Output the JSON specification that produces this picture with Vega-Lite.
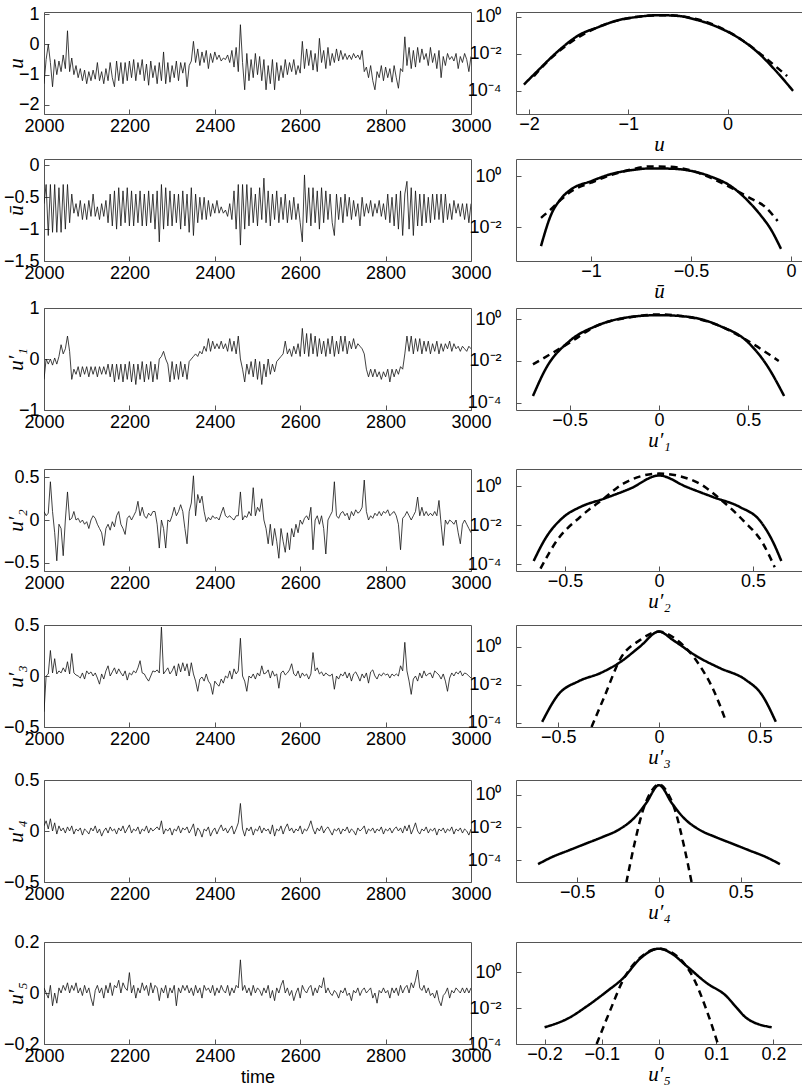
{
"$schema": "https://vega.github.io/schema/vega-lite/v6.json",
"padding": {"left": 0, "top": 0, "right": 0, "bottom": 0},
"background": "white",
"config": {
 "font": "Liberation Sans",
 "view": {"stroke": "#555", "strokeWidth": 1},
 "axis": {"grid": false, "domain": false, "tickSize": -5, "tickColor": "#555", "tickWidth": 1, "labelFontSize": 18, "labelColor": "#000", "labelFlush": false, "labelOverlap": false, "titleFont": "Liberation Serif", "titleFontStyle": "italic", "titleFontWeight": "normal", "titleFontSize": 21, "titleColor": "#000"}
},
"datasets": {
"u": [{"t":2000,"v":-1.3},{"t":2005,"v":-0.5},{"t":2010,"v":0.0},{"t":2015,"v":-0.6},{"t":2020,"v":-1.4},{"t":2025,"v":-0.5},{"t":2030,"v":-1.0},{"t":2035,"v":-0.55},{"t":2040,"v":-0.9},{"t":2045,"v":-0.35},{"t":2050,"v":-0.8},{"t":2055,"v":0.45},{"t":2060,"v":-0.9},{"t":2065,"v":-0.45},{"t":2070,"v":-1.0},{"t":2075,"v":-0.7},{"t":2080,"v":-1.1},{"t":2085,"v":-0.8},{"t":2090,"v":-1.2},{"t":2095,"v":-0.85},{"t":2100,"v":-1.3},{"t":2105,"v":-0.9},{"t":2110,"v":-1.2},{"t":2115,"v":-0.85},{"t":2120,"v":-1.15},{"t":2125,"v":-0.6},{"t":2130,"v":-1.2},{"t":2135,"v":-0.9},{"t":2140,"v":-1.3},{"t":2145,"v":-0.8},{"t":2150,"v":-1.2},{"t":2155,"v":-0.6},{"t":2160,"v":-1.1},{"t":2165,"v":-1.4},{"t":2170,"v":-0.55},{"t":2175,"v":-1.2},{"t":2180,"v":-0.6},{"t":2185,"v":-1.3},{"t":2190,"v":-0.6},{"t":2195,"v":-1.2},{"t":2200,"v":-0.55},{"t":2205,"v":-1.1},{"t":2210,"v":-0.5},{"t":2215,"v":-1.2},{"t":2220,"v":-0.6},{"t":2225,"v":-1.0},{"t":2230,"v":-0.5},{"t":2235,"v":-1.2},{"t":2240,"v":-0.65},{"t":2245,"v":-1.35},{"t":2250,"v":-0.55},{"t":2255,"v":-1.1},{"t":2260,"v":-0.7},{"t":2265,"v":-1.3},{"t":2270,"v":-0.6},{"t":2275,"v":-1.2},{"t":2280,"v":-0.25},{"t":2285,"v":-1.3},{"t":2290,"v":-0.6},{"t":2295,"v":-1.25},{"t":2300,"v":-0.7},{"t":2305,"v":-1.1},{"t":2310,"v":-0.55},{"t":2315,"v":-1.2},{"t":2320,"v":-0.6},{"t":2325,"v":-0.95},{"t":2330,"v":-0.6},{"t":2335,"v":-1.4},{"t":2340,"v":-0.7},{"t":2345,"v":-0.55},{"t":2350,"v":0.1},{"t":2355,"v":-0.6},{"t":2360,"v":-0.15},{"t":2365,"v":-0.7},{"t":2370,"v":-0.25},{"t":2375,"v":-0.6},{"t":2380,"v":-0.2},{"t":2385,"v":-0.8},{"t":2390,"v":-0.3},{"t":2395,"v":-0.6},{"t":2400,"v":-0.25},{"t":2405,"v":-0.5},{"t":2410,"v":-0.35},{"t":2415,"v":-0.55},{"t":2420,"v":-0.45},{"t":2425,"v":-0.5},{"t":2430,"v":-0.35},{"t":2435,"v":-0.6},{"t":2440,"v":-0.2},{"t":2445,"v":-0.75},{"t":2450,"v":-0.1},{"t":2455,"v":-0.9},{"t":2460,"v":0.65},{"t":2465,"v":-0.6},{"t":2470,"v":-1.5},{"t":2475,"v":-0.3},{"t":2480,"v":-1.2},{"t":2485,"v":-0.5},{"t":2490,"v":-1.1},{"t":2495,"v":-0.3},{"t":2500,"v":-1.0},{"t":2505,"v":-0.4},{"t":2510,"v":-1.2},{"t":2515,"v":-0.5},{"t":2520,"v":-1.5},{"t":2525,"v":-0.7},{"t":2530,"v":-1.3},{"t":2535,"v":-0.5},{"t":2540,"v":-1.5},{"t":2545,"v":-0.6},{"t":2550,"v":-1.2},{"t":2555,"v":-0.7},{"t":2560,"v":-1.1},{"t":2565,"v":-0.5},{"t":2570,"v":-1.0},{"t":2575,"v":-0.6},{"t":2580,"v":-0.9},{"t":2585,"v":-0.5},{"t":2590,"v":-1.0},{"t":2595,"v":-0.7},{"t":2600,"v":-0.95},{"t":2605,"v":0.1},{"t":2610,"v":-0.8},{"t":2615,"v":-0.15},{"t":2620,"v":-0.7},{"t":2625,"v":-0.2},{"t":2630,"v":-0.85},{"t":2635,"v":-0.3},{"t":2640,"v":-0.9},{"t":2645,"v":0.2},{"t":2650,"v":-0.6},{"t":2655,"v":-0.2},{"t":2660,"v":-0.8},{"t":2665,"v":-0.1},{"t":2670,"v":-0.7},{"t":2675,"v":-0.3},{"t":2680,"v":-0.6},{"t":2685,"v":-0.15},{"t":2690,"v":-0.55},{"t":2695,"v":-0.2},{"t":2700,"v":-0.5},{"t":2705,"v":-0.3},{"t":2710,"v":-0.5},{"t":2715,"v":-0.35},{"t":2720,"v":-0.5},{"t":2725,"v":-0.3},{"t":2730,"v":-0.45},{"t":2735,"v":-0.35},{"t":2740,"v":-0.5},{"t":2745,"v":-0.2},{"t":2750,"v":-0.9},{"t":2755,"v":-0.75},{"t":2760,"v":-1.1},{"t":2765,"v":-0.7},{"t":2770,"v":-1.2},{"t":2775,"v":-1.5},{"t":2780,"v":-0.9},{"t":2785,"v":-1.1},{"t":2790,"v":-0.7},{"t":2795,"v":-1.2},{"t":2800,"v":-0.75},{"t":2805,"v":-1.1},{"t":2810,"v":-0.8},{"t":2815,"v":-1.25},{"t":2820,"v":-0.7},{"t":2825,"v":-1.1},{"t":2830,"v":-1.45},{"t":2835,"v":-0.8},{"t":2840,"v":-0.9},{"t":2845,"v":0.25},{"t":2850,"v":-0.7},{"t":2855,"v":-0.1},{"t":2860,"v":-0.8},{"t":2865,"v":-0.2},{"t":2870,"v":-0.75},{"t":2875,"v":-0.1},{"t":2880,"v":-0.6},{"t":2885,"v":-0.15},{"t":2890,"v":-0.5},{"t":2895,"v":-0.3},{"t":2900,"v":-0.7},{"t":2905,"v":-0.1},{"t":2910,"v":-0.6},{"t":2915,"v":-0.3},{"t":2920,"v":-0.8},{"t":2925,"v":-0.2},{"t":2930,"v":-1.1},{"t":2935,"v":-0.4},{"t":2940,"v":-0.7},{"t":2945,"v":-0.3},{"t":2950,"v":-0.5},{"t":2955,"v":-0.4},{"t":2960,"v":-0.55},{"t":2965,"v":-0.3},{"t":2970,"v":-0.8},{"t":2975,"v":-0.4},{"t":2980,"v":-0.6},{"t":2985,"v":-0.3},{"t":2990,"v":-0.5},{"t":2995,"v":-0.9},{"t":3000,"v":-0.4}],
"ub": [{"t":2000,"v":-0.6},{"t":2005,"v":-0.3},{"t":2010,"v":-1.1},{"t":2015,"v":-0.3},{"t":2020,"v":-1.05},{"t":2025,"v":-0.3},{"t":2030,"v":-1.05},{"t":2035,"v":-0.35},{"t":2040,"v":-1.05},{"t":2045,"v":-0.3},{"t":2050,"v":-1.0},{"t":2055,"v":-0.3},{"t":2060,"v":-0.9},{"t":2065,"v":-0.45},{"t":2070,"v":-0.75},{"t":2075,"v":-0.6},{"t":2080,"v":-0.8},{"t":2085,"v":-0.55},{"t":2090,"v":-0.85},{"t":2095,"v":-0.6},{"t":2100,"v":-0.85},{"t":2105,"v":-0.55},{"t":2110,"v":-0.8},{"t":2115,"v":-0.45},{"t":2120,"v":-0.8},{"t":2125,"v":-0.65},{"t":2130,"v":-0.85},{"t":2135,"v":-0.6},{"t":2140,"v":-0.8},{"t":2145,"v":-0.55},{"t":2150,"v":-0.9},{"t":2155,"v":-0.45},{"t":2160,"v":-0.95},{"t":2165,"v":-0.4},{"t":2170,"v":-1.0},{"t":2175,"v":-0.35},{"t":2180,"v":-0.95},{"t":2185,"v":-0.4},{"t":2190,"v":-0.9},{"t":2195,"v":-0.35},{"t":2200,"v":-0.95},{"t":2205,"v":-0.4},{"t":2210,"v":-0.95},{"t":2215,"v":-0.45},{"t":2220,"v":-0.9},{"t":2225,"v":-0.4},{"t":2230,"v":-0.95},{"t":2235,"v":-0.45},{"t":2240,"v":-0.95},{"t":2245,"v":-0.4},{"t":2250,"v":-0.9},{"t":2255,"v":-0.45},{"t":2260,"v":-1.0},{"t":2265,"v":-0.4},{"t":2270,"v":-1.2},{"t":2275,"v":-0.3},{"t":2280,"v":-1.0},{"t":2285,"v":-0.35},{"t":2290,"v":-0.95},{"t":2295,"v":-0.4},{"t":2300,"v":-0.95},{"t":2305,"v":-0.45},{"t":2310,"v":-0.9},{"t":2315,"v":-0.45},{"t":2320,"v":-1.0},{"t":2325,"v":-0.4},{"t":2330,"v":-0.95},{"t":2335,"v":-0.45},{"t":2340,"v":-1.05},{"t":2345,"v":-0.35},{"t":2350,"v":-1.1},{"t":2355,"v":-0.45},{"t":2360,"v":-0.9},{"t":2365,"v":-0.5},{"t":2370,"v":-0.85},{"t":2375,"v":-0.5},{"t":2380,"v":-0.85},{"t":2385,"v":-0.55},{"t":2390,"v":-0.8},{"t":2395,"v":-0.6},{"t":2400,"v":-0.75},{"t":2405,"v":-0.55},{"t":2410,"v":-0.75},{"t":2415,"v":-0.65},{"t":2420,"v":-0.75},{"t":2425,"v":-0.7},{"t":2430,"v":-0.8},{"t":2435,"v":-0.6},{"t":2440,"v":-0.85},{"t":2445,"v":-0.4},{"t":2450,"v":-1.0},{"t":2455,"v":-0.3},{"t":2460,"v":-1.25},{"t":2465,"v":-0.3},{"t":2470,"v":-1.0},{"t":2475,"v":-0.3},{"t":2480,"v":-0.95},{"t":2485,"v":-0.35},{"t":2490,"v":-0.9},{"t":2495,"v":-0.45},{"t":2500,"v":-0.95},{"t":2505,"v":-0.35},{"t":2510,"v":-0.85},{"t":2515,"v":-0.2},{"t":2520,"v":-0.9},{"t":2525,"v":-0.4},{"t":2530,"v":-0.95},{"t":2535,"v":-0.45},{"t":2540,"v":-0.85},{"t":2545,"v":-0.4},{"t":2550,"v":-0.9},{"t":2555,"v":-0.5},{"t":2560,"v":-0.85},{"t":2565,"v":-0.45},{"t":2570,"v":-0.9},{"t":2575,"v":-0.55},{"t":2580,"v":-0.85},{"t":2585,"v":-0.5},{"t":2590,"v":-0.85},{"t":2595,"v":-0.6},{"t":2600,"v":-0.9},{"t":2605,"v":-1.2},{"t":2610,"v":-0.15},{"t":2615,"v":-0.9},{"t":2620,"v":-0.35},{"t":2625,"v":-0.95},{"t":2630,"v":-0.35},{"t":2635,"v":-0.9},{"t":2640,"v":-0.4},{"t":2645,"v":-1.0},{"t":2650,"v":-0.35},{"t":2655,"v":-0.9},{"t":2660,"v":-0.4},{"t":2665,"v":-0.85},{"t":2670,"v":-0.45},{"t":2675,"v":-0.9},{"t":2680,"v":-1.1},{"t":2685,"v":-0.45},{"t":2690,"v":-0.85},{"t":2695,"v":-0.5},{"t":2700,"v":-0.9},{"t":2705,"v":-0.45},{"t":2710,"v":-0.8},{"t":2715,"v":-0.5},{"t":2720,"v":-0.85},{"t":2725,"v":-0.55},{"t":2730,"v":-0.8},{"t":2735,"v":-0.6},{"t":2740,"v":-0.95},{"t":2745,"v":-0.5},{"t":2750,"v":-0.8},{"t":2755,"v":-0.6},{"t":2760,"v":-0.75},{"t":2765,"v":-0.55},{"t":2770,"v":-0.8},{"t":2775,"v":-0.6},{"t":2780,"v":-0.75},{"t":2785,"v":-0.55},{"t":2790,"v":-0.8},{"t":2795,"v":-0.6},{"t":2800,"v":-0.85},{"t":2805,"v":-0.45},{"t":2810,"v":-0.9},{"t":2815,"v":-0.5},{"t":2820,"v":-0.95},{"t":2825,"v":-0.45},{"t":2830,"v":-1.0},{"t":2835,"v":-0.4},{"t":2840,"v":-1.1},{"t":2845,"v":-0.45},{"t":2850,"v":-0.25},{"t":2855,"v":-1.0},{"t":2860,"v":-0.35},{"t":2865,"v":-1.1},{"t":2870,"v":-0.4},{"t":2875,"v":-0.95},{"t":2880,"v":-0.45},{"t":2885,"v":-0.95},{"t":2890,"v":-0.45},{"t":2895,"v":-0.9},{"t":2900,"v":-0.5},{"t":2905,"v":-0.9},{"t":2910,"v":-0.45},{"t":2915,"v":-0.85},{"t":2920,"v":-0.45},{"t":2925,"v":-0.85},{"t":2930,"v":-0.45},{"t":2935,"v":-0.9},{"t":2940,"v":-0.45},{"t":2945,"v":-0.85},{"t":2950,"v":-0.6},{"t":2955,"v":-0.85},{"t":2960,"v":-0.55},{"t":2965,"v":-0.75},{"t":2970,"v":-0.6},{"t":2975,"v":-0.8},{"t":2980,"v":-0.6},{"t":2985,"v":-0.85},{"t":2990,"v":-0.6},{"t":2995,"v":-0.9},{"t":3000,"v":-0.6}],
"u1": [{"t":2000,"v":-0.4},{"t":2005,"v":0.0},{"t":2010,"v":-0.1},{"t":2015,"v":0.0},{"t":2020,"v":-0.12},{"t":2025,"v":0.02},{"t":2030,"v":-0.1},{"t":2035,"v":0.05},{"t":2040,"v":0.28},{"t":2045,"v":0.1},{"t":2050,"v":0.2},{"t":2055,"v":0.45},{"t":2060,"v":0.15},{"t":2065,"v":-0.4},{"t":2070,"v":-0.2},{"t":2075,"v":-0.3},{"t":2080,"v":-0.15},{"t":2085,"v":-0.35},{"t":2090,"v":-0.15},{"t":2095,"v":-0.3},{"t":2100,"v":-0.15},{"t":2105,"v":-0.35},{"t":2110,"v":-0.15},{"t":2115,"v":-0.3},{"t":2120,"v":-0.15},{"t":2125,"v":-0.35},{"t":2130,"v":-0.15},{"t":2135,"v":-0.3},{"t":2140,"v":-0.15},{"t":2145,"v":-0.3},{"t":2150,"v":-0.1},{"t":2155,"v":-0.35},{"t":2160,"v":-0.1},{"t":2165,"v":-0.45},{"t":2170,"v":-0.1},{"t":2175,"v":-0.4},{"t":2180,"v":-0.1},{"t":2185,"v":-0.45},{"t":2190,"v":-0.1},{"t":2195,"v":-0.4},{"t":2200,"v":-0.05},{"t":2205,"v":-0.45},{"t":2210,"v":-0.1},{"t":2215,"v":-0.5},{"t":2220,"v":-0.1},{"t":2225,"v":-0.4},{"t":2230,"v":-0.05},{"t":2235,"v":-0.45},{"t":2240,"v":-0.1},{"t":2245,"v":-0.4},{"t":2250,"v":-0.05},{"t":2255,"v":-0.45},{"t":2260,"v":-0.1},{"t":2265,"v":-0.4},{"t":2270,"v":0.0},{"t":2275,"v":0.05},{"t":2280,"v":0.15},{"t":2285,"v":0.0},{"t":2290,"v":-0.1},{"t":2295,"v":-0.45},{"t":2300,"v":-0.05},{"t":2305,"v":-0.4},{"t":2310,"v":-0.1},{"t":2315,"v":-0.4},{"t":2320,"v":-0.05},{"t":2325,"v":-0.35},{"t":2330,"v":-0.1},{"t":2335,"v":-0.4},{"t":2340,"v":-0.05},{"t":2345,"v":0.0},{"t":2350,"v":0.05},{"t":2355,"v":0.1},{"t":2360,"v":0.05},{"t":2365,"v":0.15},{"t":2370,"v":0.1},{"t":2375,"v":0.25},{"t":2380,"v":0.15},{"t":2385,"v":0.4},{"t":2390,"v":0.15},{"t":2395,"v":0.35},{"t":2400,"v":0.2},{"t":2405,"v":0.3},{"t":2410,"v":0.2},{"t":2415,"v":0.35},{"t":2420,"v":0.2},{"t":2425,"v":0.3},{"t":2430,"v":0.15},{"t":2435,"v":0.4},{"t":2440,"v":0.15},{"t":2445,"v":0.35},{"t":2450,"v":0.1},{"t":2455,"v":0.45},{"t":2460,"v":0.0},{"t":2465,"v":-0.2},{"t":2470,"v":-0.45},{"t":2475,"v":-0.1},{"t":2480,"v":-0.3},{"t":2485,"v":-0.05},{"t":2490,"v":-0.35},{"t":2495,"v":0.0},{"t":2500,"v":-0.4},{"t":2505,"v":-0.05},{"t":2510,"v":-0.5},{"t":2515,"v":-0.1},{"t":2520,"v":-0.35},{"t":2525,"v":0.0},{"t":2530,"v":-0.3},{"t":2535,"v":-0.1},{"t":2540,"v":-0.25},{"t":2545,"v":-0.05},{"t":2550,"v":0.0},{"t":2555,"v":0.05},{"t":2560,"v":0.1},{"t":2565,"v":0.35},{"t":2570,"v":0.1},{"t":2575,"v":0.2},{"t":2580,"v":0.05},{"t":2585,"v":0.25},{"t":2590,"v":0.1},{"t":2595,"v":0.3},{"t":2600,"v":0.05},{"t":2605,"v":0.6},{"t":2610,"v":0.1},{"t":2615,"v":0.5},{"t":2620,"v":0.05},{"t":2625,"v":0.5},{"t":2630,"v":0.1},{"t":2635,"v":0.45},{"t":2640,"v":0.05},{"t":2645,"v":0.4},{"t":2650,"v":0.1},{"t":2655,"v":0.35},{"t":2660,"v":0.05},{"t":2665,"v":0.4},{"t":2670,"v":0.1},{"t":2675,"v":0.45},{"t":2680,"v":0.05},{"t":2685,"v":0.35},{"t":2690,"v":0.1},{"t":2695,"v":0.45},{"t":2700,"v":0.15},{"t":2705,"v":0.45},{"t":2710,"v":0.1},{"t":2715,"v":0.35},{"t":2720,"v":0.2},{"t":2725,"v":0.4},{"t":2730,"v":0.2},{"t":2735,"v":0.3},{"t":2740,"v":0.25},{"t":2745,"v":0.2},{"t":2750,"v":0.1},{"t":2755,"v":-0.2},{"t":2760,"v":-0.35},{"t":2765,"v":-0.2},{"t":2770,"v":-0.35},{"t":2775,"v":-0.2},{"t":2780,"v":-0.35},{"t":2785,"v":-0.25},{"t":2790,"v":-0.4},{"t":2795,"v":-0.25},{"t":2800,"v":-0.35},{"t":2805,"v":-0.2},{"t":2810,"v":-0.45},{"t":2815,"v":-0.2},{"t":2820,"v":-0.35},{"t":2825,"v":-0.2},{"t":2830,"v":-0.3},{"t":2835,"v":-0.15},{"t":2840,"v":-0.2},{"t":2845,"v":0.1},{"t":2850,"v":0.45},{"t":2855,"v":0.15},{"t":2860,"v":0.45},{"t":2865,"v":0.1},{"t":2870,"v":0.4},{"t":2875,"v":0.15},{"t":2880,"v":0.4},{"t":2885,"v":0.1},{"t":2890,"v":0.35},{"t":2895,"v":0.15},{"t":2900,"v":0.35},{"t":2905,"v":0.1},{"t":2910,"v":0.3},{"t":2915,"v":0.15},{"t":2920,"v":0.35},{"t":2925,"v":0.1},{"t":2930,"v":0.3},{"t":2935,"v":0.15},{"t":2940,"v":0.3},{"t":2945,"v":0.2},{"t":2950,"v":0.35},{"t":2955,"v":0.15},{"t":2960,"v":0.3},{"t":2965,"v":0.2},{"t":2970,"v":0.25},{"t":2975,"v":0.15},{"t":2980,"v":0.25},{"t":2985,"v":0.2},{"t":2990,"v":0.15},{"t":2995,"v":0.25},{"t":3000,"v":0.2}],
"u2": [{"t":2000,"v":0.1},{"t":2005,"v":0.05},{"t":2010,"v":0.08},{"t":2015,"v":0.45},{"t":2020,"v":0.1},{"t":2025,"v":-0.15},{"t":2030,"v":-0.48},{"t":2035,"v":-0.05},{"t":2040,"v":-0.1},{"t":2045,"v":-0.42},{"t":2050,"v":0.0},{"t":2055,"v":0.33},{"t":2060,"v":0.0},{"t":2065,"v":0.02},{"t":2070,"v":0.1},{"t":2075,"v":0.0},{"t":2080,"v":0.02},{"t":2085,"v":-0.03},{"t":2090,"v":0.0},{"t":2095,"v":-0.05},{"t":2100,"v":-0.02},{"t":2105,"v":-0.1},{"t":2110,"v":0.0},{"t":2115,"v":0.05},{"t":2120,"v":0.02},{"t":2125,"v":-0.05},{"t":2130,"v":-0.1},{"t":2135,"v":-0.15},{"t":2140,"v":-0.3},{"t":2145,"v":-0.1},{"t":2150,"v":-0.05},{"t":2155,"v":-0.12},{"t":2160,"v":-0.02},{"t":2165,"v":-0.08},{"t":2170,"v":0.05},{"t":2175,"v":0.1},{"t":2180,"v":-0.05},{"t":2185,"v":-0.1},{"t":2190,"v":-0.17},{"t":2195,"v":0.02},{"t":2200,"v":0.05},{"t":2205,"v":0.0},{"t":2210,"v":0.05},{"t":2215,"v":0.1},{"t":2220,"v":0.22},{"t":2225,"v":0.05},{"t":2230,"v":0.15},{"t":2235,"v":0.05},{"t":2240,"v":0.02},{"t":2245,"v":0.08},{"t":2250,"v":0.05},{"t":2255,"v":0.1},{"t":2260,"v":0.1},{"t":2265,"v":-0.05},{"t":2270,"v":-0.33},{"t":2275,"v":0.0},{"t":2280,"v":-0.1},{"t":2285,"v":-0.33},{"t":2290,"v":0.0},{"t":2295,"v":-0.02},{"t":2300,"v":0.05},{"t":2305,"v":0.15},{"t":2310,"v":0.05},{"t":2315,"v":0.1},{"t":2320,"v":0.18},{"t":2325,"v":0.1},{"t":2330,"v":-0.1},{"t":2335,"v":-0.28},{"t":2340,"v":0.1},{"t":2345,"v":0.2},{"t":2350,"v":0.52},{"t":2355,"v":0.05},{"t":2360,"v":0.3},{"t":2365,"v":0.2},{"t":2370,"v":0.28},{"t":2375,"v":0.1},{"t":2380,"v":-0.02},{"t":2385,"v":0.03},{"t":2390,"v":0.0},{"t":2395,"v":0.05},{"t":2400,"v":0.02},{"t":2405,"v":0.03},{"t":2410,"v":0.0},{"t":2415,"v":0.08},{"t":2420,"v":0.15},{"t":2425,"v":0.05},{"t":2430,"v":0.03},{"t":2435,"v":0.05},{"t":2440,"v":0.02},{"t":2445,"v":0.0},{"t":2450,"v":0.05},{"t":2455,"v":0.05},{"t":2460,"v":0.33},{"t":2465,"v":0.0},{"t":2470,"v":0.05},{"t":2475,"v":0.03},{"t":2480,"v":0.1},{"t":2485,"v":0.05},{"t":2490,"v":0.38},{"t":2495,"v":0.05},{"t":2500,"v":0.15},{"t":2505,"v":0.1},{"t":2510,"v":0.25},{"t":2515,"v":0.0},{"t":2520,"v":-0.1},{"t":2525,"v":-0.28},{"t":2530,"v":-0.05},{"t":2535,"v":-0.3},{"t":2540,"v":-0.1},{"t":2545,"v":-0.25},{"t":2550,"v":-0.45},{"t":2555,"v":-0.1},{"t":2560,"v":-0.25},{"t":2565,"v":-0.38},{"t":2570,"v":-0.15},{"t":2575,"v":-0.35},{"t":2580,"v":-0.1},{"t":2585,"v":-0.2},{"t":2590,"v":-0.05},{"t":2595,"v":-0.15},{"t":2600,"v":0.0},{"t":2605,"v":-0.05},{"t":2610,"v":0.02},{"t":2615,"v":0.05},{"t":2620,"v":0.0},{"t":2625,"v":0.15},{"t":2630,"v":-0.35},{"t":2635,"v":0.0},{"t":2640,"v":0.05},{"t":2645,"v":-0.05},{"t":2650,"v":0.05},{"t":2655,"v":-0.1},{"t":2660,"v":-0.4},{"t":2665,"v":0.0},{"t":2670,"v":0.05},{"t":2675,"v":0.1},{"t":2680,"v":0.45},{"t":2685,"v":0.05},{"t":2690,"v":0.02},{"t":2695,"v":0.08},{"t":2700,"v":0.1},{"t":2705,"v":0.05},{"t":2710,"v":0.08},{"t":2715,"v":0.0},{"t":2720,"v":0.1},{"t":2725,"v":0.05},{"t":2730,"v":0.12},{"t":2735,"v":0.08},{"t":2740,"v":0.1},{"t":2745,"v":0.15},{"t":2750,"v":0.47},{"t":2755,"v":0.1},{"t":2760,"v":0.0},{"t":2765,"v":0.05},{"t":2770,"v":0.02},{"t":2775,"v":0.08},{"t":2780,"v":0.05},{"t":2785,"v":0.1},{"t":2790,"v":0.05},{"t":2795,"v":0.1},{"t":2800,"v":0.08},{"t":2805,"v":0.12},{"t":2810,"v":0.05},{"t":2815,"v":0.08},{"t":2820,"v":0.1},{"t":2825,"v":0.05},{"t":2830,"v":-0.05},{"t":2835,"v":-0.35},{"t":2840,"v":0.02},{"t":2845,"v":0.05},{"t":2850,"v":0.1},{"t":2855,"v":0.05},{"t":2860,"v":0.0},{"t":2865,"v":0.05},{"t":2870,"v":0.1},{"t":2875,"v":0.27},{"t":2880,"v":0.05},{"t":2885,"v":0.15},{"t":2890,"v":0.05},{"t":2895,"v":0.1},{"t":2900,"v":0.05},{"t":2905,"v":0.08},{"t":2910,"v":0.05},{"t":2915,"v":0.1},{"t":2920,"v":0.05},{"t":2925,"v":0.23},{"t":2930,"v":-0.05},{"t":2935,"v":-0.3},{"t":2940,"v":0.0},{"t":2945,"v":-0.05},{"t":2950,"v":0.0},{"t":2955,"v":-0.02},{"t":2960,"v":-0.05},{"t":2965,"v":0.0},{"t":2970,"v":-0.15},{"t":2975,"v":-0.28},{"t":2980,"v":-0.05},{"t":2985,"v":0.0},{"t":2990,"v":-0.05},{"t":2995,"v":-0.1},{"t":3000,"v":-0.15}],
"u3": [{"t":2000,"v":-0.35},{"t":2005,"v":0.0},{"t":2010,"v":0.02},{"t":2015,"v":0.25},{"t":2020,"v":0.03},{"t":2025,"v":0.17},{"t":2030,"v":0.02},{"t":2035,"v":0.05},{"t":2040,"v":0.03},{"t":2045,"v":0.08},{"t":2050,"v":0.04},{"t":2055,"v":0.14},{"t":2060,"v":0.02},{"t":2065,"v":0.22},{"t":2070,"v":0.03},{"t":2075,"v":0.01},{"t":2080,"v":0.0},{"t":2085,"v":-0.02},{"t":2090,"v":0.03},{"t":2095,"v":-0.03},{"t":2100,"v":0.05},{"t":2105,"v":0.02},{"t":2110,"v":0.04},{"t":2115,"v":0.0},{"t":2120,"v":0.03},{"t":2125,"v":-0.02},{"t":2130,"v":-0.08},{"t":2135,"v":0.02},{"t":2140,"v":-0.03},{"t":2145,"v":0.05},{"t":2150,"v":0.1},{"t":2155,"v":0.0},{"t":2160,"v":0.04},{"t":2165,"v":0.08},{"t":2170,"v":0.02},{"t":2175,"v":0.07},{"t":2180,"v":0.03},{"t":2185,"v":0.0},{"t":2190,"v":0.05},{"t":2195,"v":-0.04},{"t":2200,"v":0.03},{"t":2205,"v":0.01},{"t":2210,"v":0.05},{"t":2215,"v":0.03},{"t":2220,"v":0.08},{"t":2225,"v":0.15},{"t":2230,"v":0.03},{"t":2235,"v":0.02},{"t":2240,"v":-0.02},{"t":2245,"v":-0.05},{"t":2250,"v":0.0},{"t":2255,"v":0.05},{"t":2260,"v":0.04},{"t":2265,"v":0.06},{"t":2270,"v":0.03},{"t":2275,"v":0.48},{"t":2280,"v":0.02},{"t":2285,"v":0.05},{"t":2290,"v":0.08},{"t":2295,"v":0.02},{"t":2300,"v":0.05},{"t":2305,"v":0.1},{"t":2310,"v":0.0},{"t":2315,"v":0.12},{"t":2320,"v":0.04},{"t":2325,"v":0.13},{"t":2330,"v":0.05},{"t":2335,"v":0.12},{"t":2340,"v":0.0},{"t":2345,"v":0.13},{"t":2350,"v":0.02},{"t":2355,"v":-0.05},{"t":2360,"v":-0.15},{"t":2365,"v":-0.03},{"t":2370,"v":-0.01},{"t":2375,"v":-0.05},{"t":2380,"v":0.02},{"t":2385,"v":-0.05},{"t":2390,"v":-0.08},{"t":2395,"v":-0.18},{"t":2400,"v":-0.05},{"t":2405,"v":-0.08},{"t":2410,"v":-0.1},{"t":2415,"v":-0.03},{"t":2420,"v":-0.07},{"t":2425,"v":0.0},{"t":2430,"v":-0.02},{"t":2435,"v":0.05},{"t":2440,"v":-0.03},{"t":2445,"v":0.07},{"t":2450,"v":0.02},{"t":2455,"v":0.05},{"t":2460,"v":0.37},{"t":2465,"v":0.0},{"t":2470,"v":-0.05},{"t":2475,"v":-0.15},{"t":2480,"v":0.0},{"t":2485,"v":-0.02},{"t":2490,"v":0.02},{"t":2495,"v":-0.03},{"t":2500,"v":0.03},{"t":2505,"v":0.0},{"t":2510,"v":0.1},{"t":2515,"v":0.02},{"t":2520,"v":0.03},{"t":2525,"v":0.06},{"t":2530,"v":-0.02},{"t":2535,"v":0.05},{"t":2540,"v":0.0},{"t":2545,"v":0.02},{"t":2550,"v":-0.12},{"t":2555,"v":0.03},{"t":2560,"v":0.05},{"t":2565,"v":0.01},{"t":2570,"v":0.03},{"t":2575,"v":0.06},{"t":2580,"v":0.12},{"t":2585,"v":0.02},{"t":2590,"v":0.0},{"t":2595,"v":0.05},{"t":2600,"v":-0.02},{"t":2605,"v":0.03},{"t":2610,"v":0.0},{"t":2615,"v":0.02},{"t":2620,"v":-0.03},{"t":2625,"v":0.02},{"t":2630,"v":0.23},{"t":2635,"v":0.05},{"t":2640,"v":0.08},{"t":2645,"v":0.02},{"t":2650,"v":0.04},{"t":2655,"v":0.0},{"t":2660,"v":0.03},{"t":2665,"v":0.01},{"t":2670,"v":0.0},{"t":2675,"v":0.02},{"t":2680,"v":-0.13},{"t":2685,"v":0.0},{"t":2690,"v":-0.03},{"t":2695,"v":0.02},{"t":2700,"v":0.0},{"t":2705,"v":0.04},{"t":2710,"v":-0.02},{"t":2715,"v":0.03},{"t":2720,"v":-0.05},{"t":2725,"v":0.02},{"t":2730,"v":0.04},{"t":2735,"v":0.0},{"t":2740,"v":-0.05},{"t":2745,"v":0.02},{"t":2750,"v":-0.02},{"t":2755,"v":0.03},{"t":2760,"v":-0.07},{"t":2765,"v":0.04},{"t":2770,"v":0.06},{"t":2775,"v":0.0},{"t":2780,"v":-0.03},{"t":2785,"v":0.02},{"t":2790,"v":0.0},{"t":2795,"v":0.03},{"t":2800,"v":0.01},{"t":2805,"v":0.02},{"t":2810,"v":-0.02},{"t":2815,"v":0.02},{"t":2820,"v":0.0},{"t":2825,"v":0.02},{"t":2830,"v":0.0},{"t":2835,"v":0.1},{"t":2840,"v":0.05},{"t":2845,"v":0.33},{"t":2850,"v":0.05},{"t":2855,"v":-0.05},{"t":2860,"v":-0.18},{"t":2865,"v":-0.03},{"t":2870,"v":0.0},{"t":2875,"v":-0.05},{"t":2880,"v":0.03},{"t":2885,"v":-0.02},{"t":2890,"v":0.05},{"t":2895,"v":0.0},{"t":2900,"v":0.02},{"t":2905,"v":0.03},{"t":2910,"v":-0.02},{"t":2915,"v":0.05},{"t":2920,"v":0.03},{"t":2925,"v":0.01},{"t":2930,"v":-0.03},{"t":2935,"v":0.02},{"t":2940,"v":-0.05},{"t":2945,"v":-0.15},{"t":2950,"v":-0.02},{"t":2955,"v":0.03},{"t":2960,"v":0.0},{"t":2965,"v":0.04},{"t":2970,"v":0.02},{"t":2975,"v":0.05},{"t":2980,"v":0.0},{"t":2985,"v":0.03},{"t":2990,"v":0.02},{"t":2995,"v":0.0},{"t":3000,"v":-0.02}],
"u4": [{"t":2000,"v":0.05},{"t":2005,"v":0.1},{"t":2010,"v":0.02},{"t":2015,"v":0.12},{"t":2020,"v":0.0},{"t":2025,"v":0.08},{"t":2030,"v":-0.03},{"t":2035,"v":0.05},{"t":2040,"v":0.0},{"t":2045,"v":0.03},{"t":2050,"v":-0.02},{"t":2055,"v":0.04},{"t":2060,"v":0.0},{"t":2065,"v":0.05},{"t":2070,"v":-0.03},{"t":2075,"v":0.02},{"t":2080,"v":0.0},{"t":2085,"v":0.03},{"t":2090,"v":-0.04},{"t":2095,"v":0.02},{"t":2100,"v":0.0},{"t":2105,"v":-0.03},{"t":2110,"v":0.03},{"t":2115,"v":0.0},{"t":2120,"v":0.05},{"t":2125,"v":-0.02},{"t":2130,"v":0.02},{"t":2135,"v":-0.05},{"t":2140,"v":0.0},{"t":2145,"v":0.03},{"t":2150,"v":-0.02},{"t":2155,"v":0.04},{"t":2160,"v":0.0},{"t":2165,"v":0.02},{"t":2170,"v":-0.03},{"t":2175,"v":0.03},{"t":2180,"v":0.0},{"t":2185,"v":0.05},{"t":2190,"v":-0.02},{"t":2195,"v":0.02},{"t":2200,"v":0.06},{"t":2205,"v":-0.02},{"t":2210,"v":0.02},{"t":2215,"v":0.0},{"t":2220,"v":0.04},{"t":2225,"v":-0.03},{"t":2230,"v":0.02},{"t":2235,"v":0.0},{"t":2240,"v":0.05},{"t":2245,"v":-0.02},{"t":2250,"v":0.03},{"t":2255,"v":0.0},{"t":2260,"v":0.02},{"t":2265,"v":0.04},{"t":2270,"v":0.01},{"t":2275,"v":0.1},{"t":2280,"v":-0.03},{"t":2285,"v":0.02},{"t":2290,"v":0.0},{"t":2295,"v":0.03},{"t":2300,"v":-0.04},{"t":2305,"v":0.02},{"t":2310,"v":0.0},{"t":2315,"v":0.05},{"t":2320,"v":-0.02},{"t":2325,"v":0.03},{"t":2330,"v":0.01},{"t":2335,"v":0.04},{"t":2340,"v":-0.02},{"t":2345,"v":0.02},{"t":2350,"v":0.07},{"t":2355,"v":-0.05},{"t":2360,"v":0.03},{"t":2365,"v":0.0},{"t":2370,"v":-0.06},{"t":2375,"v":0.02},{"t":2380,"v":0.0},{"t":2385,"v":0.04},{"t":2390,"v":-0.05},{"t":2395,"v":0.0},{"t":2400,"v":0.03},{"t":2405,"v":-0.03},{"t":2410,"v":0.02},{"t":2415,"v":0.06},{"t":2420,"v":0.0},{"t":2425,"v":0.03},{"t":2430,"v":-0.02},{"t":2435,"v":0.02},{"t":2440,"v":0.05},{"t":2445,"v":-0.03},{"t":2450,"v":0.02},{"t":2455,"v":0.08},{"t":2460,"v":0.27},{"t":2465,"v":0.02},{"t":2470,"v":-0.05},{"t":2475,"v":0.03},{"t":2480,"v":0.0},{"t":2485,"v":0.04},{"t":2490,"v":-0.04},{"t":2495,"v":0.02},{"t":2500,"v":0.0},{"t":2505,"v":0.05},{"t":2510,"v":-0.02},{"t":2515,"v":0.03},{"t":2520,"v":0.0},{"t":2525,"v":0.02},{"t":2530,"v":-0.03},{"t":2535,"v":0.06},{"t":2540,"v":-0.05},{"t":2545,"v":0.02},{"t":2550,"v":0.0},{"t":2555,"v":0.05},{"t":2560,"v":-0.03},{"t":2565,"v":0.03},{"t":2570,"v":0.07},{"t":2575,"v":0.0},{"t":2580,"v":0.03},{"t":2585,"v":-0.02},{"t":2590,"v":0.02},{"t":2595,"v":0.0},{"t":2600,"v":0.05},{"t":2605,"v":-0.03},{"t":2610,"v":0.02},{"t":2615,"v":0.0},{"t":2620,"v":0.04},{"t":2625,"v":0.1},{"t":2630,"v":0.02},{"t":2635,"v":-0.03},{"t":2640,"v":0.03},{"t":2645,"v":0.0},{"t":2650,"v":0.05},{"t":2655,"v":-0.02},{"t":2660,"v":0.02},{"t":2665,"v":0.04},{"t":2670,"v":0.0},{"t":2675,"v":-0.04},{"t":2680,"v":0.02},{"t":2685,"v":0.0},{"t":2690,"v":0.03},{"t":2695,"v":-0.03},{"t":2700,"v":0.02},{"t":2705,"v":0.0},{"t":2710,"v":0.04},{"t":2715,"v":-0.02},{"t":2720,"v":0.02},{"t":2725,"v":0.0},{"t":2730,"v":-0.04},{"t":2735,"v":0.03},{"t":2740,"v":0.0},{"t":2745,"v":0.02},{"t":2750,"v":0.05},{"t":2755,"v":-0.03},{"t":2760,"v":0.02},{"t":2765,"v":0.0},{"t":2770,"v":0.03},{"t":2775,"v":-0.02},{"t":2780,"v":0.02},{"t":2785,"v":0.0},{"t":2790,"v":0.04},{"t":2795,"v":-0.03},{"t":2800,"v":0.02},{"t":2805,"v":0.0},{"t":2810,"v":0.03},{"t":2815,"v":-0.02},{"t":2820,"v":0.02},{"t":2825,"v":0.04},{"t":2830,"v":0.0},{"t":2835,"v":0.03},{"t":2840,"v":-0.02},{"t":2845,"v":0.05},{"t":2850,"v":0.0},{"t":2855,"v":0.06},{"t":2860,"v":-0.03},{"t":2865,"v":0.02},{"t":2870,"v":0.08},{"t":2875,"v":0.0},{"t":2880,"v":-0.03},{"t":2885,"v":0.02},{"t":2890,"v":0.0},{"t":2895,"v":0.04},{"t":2900,"v":-0.02},{"t":2905,"v":0.02},{"t":2910,"v":0.0},{"t":2915,"v":0.03},{"t":2920,"v":-0.04},{"t":2925,"v":0.02},{"t":2930,"v":0.0},{"t":2935,"v":0.03},{"t":2940,"v":-0.02},{"t":2945,"v":0.02},{"t":2950,"v":0.0},{"t":2955,"v":0.04},{"t":2960,"v":-0.03},{"t":2965,"v":0.02},{"t":2970,"v":0.0},{"t":2975,"v":0.03},{"t":2980,"v":-0.02},{"t":2985,"v":0.02},{"t":2990,"v":0.0},{"t":2995,"v":-0.04},{"t":3000,"v":0.02}],
"u5": [{"t":2000,"v":0.02},{"t":2005,"v":0.0},{"t":2010,"v":-0.02},{"t":2015,"v":0.03},{"t":2020,"v":-0.05},{"t":2025,"v":0.0},{"t":2030,"v":-0.04},{"t":2035,"v":0.02},{"t":2040,"v":0.0},{"t":2045,"v":0.03},{"t":2050,"v":0.01},{"t":2055,"v":0.04},{"t":2060,"v":0.0},{"t":2065,"v":0.03},{"t":2070,"v":0.01},{"t":2075,"v":0.04},{"t":2080,"v":0.0},{"t":2085,"v":0.02},{"t":2090,"v":-0.01},{"t":2095,"v":0.03},{"t":2100,"v":0.0},{"t":2105,"v":0.02},{"t":2110,"v":-0.02},{"t":2115,"v":-0.05},{"t":2120,"v":0.01},{"t":2125,"v":0.03},{"t":2130,"v":0.0},{"t":2135,"v":0.02},{"t":2140,"v":-0.02},{"t":2145,"v":0.03},{"t":2150,"v":0.0},{"t":2155,"v":0.04},{"t":2160,"v":-0.01},{"t":2165,"v":0.03},{"t":2170,"v":0.02},{"t":2175,"v":0.05},{"t":2180,"v":0.0},{"t":2185,"v":0.04},{"t":2190,"v":0.02},{"t":2195,"v":0.01},{"t":2200,"v":0.08},{"t":2205,"v":0.0},{"t":2210,"v":0.03},{"t":2215,"v":-0.02},{"t":2220,"v":0.02},{"t":2225,"v":0.0},{"t":2230,"v":0.04},{"t":2235,"v":0.01},{"t":2240,"v":0.03},{"t":2245,"v":-0.01},{"t":2250,"v":0.04},{"t":2255,"v":0.0},{"t":2260,"v":0.03},{"t":2265,"v":0.02},{"t":2270,"v":-0.03},{"t":2275,"v":0.02},{"t":2280,"v":0.0},{"t":2285,"v":0.03},{"t":2290,"v":-0.02},{"t":2295,"v":0.02},{"t":2300,"v":0.0},{"t":2305,"v":0.03},{"t":2310,"v":-0.05},{"t":2315,"v":0.02},{"t":2320,"v":0.0},{"t":2325,"v":0.03},{"t":2330,"v":0.01},{"t":2335,"v":0.03},{"t":2340,"v":0.0},{"t":2345,"v":0.02},{"t":2350,"v":-0.01},{"t":2355,"v":0.03},{"t":2360,"v":0.0},{"t":2365,"v":0.02},{"t":2370,"v":-0.02},{"t":2375,"v":0.03},{"t":2380,"v":0.01},{"t":2385,"v":0.02},{"t":2390,"v":0.0},{"t":2395,"v":0.03},{"t":2400,"v":-0.01},{"t":2405,"v":0.02},{"t":2410,"v":0.0},{"t":2415,"v":0.03},{"t":2420,"v":0.01},{"t":2425,"v":0.0},{"t":2430,"v":0.03},{"t":2435,"v":-0.01},{"t":2440,"v":0.02},{"t":2445,"v":0.0},{"t":2450,"v":0.03},{"t":2455,"v":0.02},{"t":2460,"v":0.13},{"t":2465,"v":0.01},{"t":2470,"v":0.03},{"t":2475,"v":0.0},{"t":2480,"v":0.02},{"t":2485,"v":-0.01},{"t":2490,"v":0.03},{"t":2495,"v":0.0},{"t":2500,"v":0.02},{"t":2505,"v":0.01},{"t":2510,"v":-0.01},{"t":2515,"v":0.02},{"t":2520,"v":0.0},{"t":2525,"v":0.03},{"t":2530,"v":-0.02},{"t":2535,"v":0.01},{"t":2540,"v":-0.03},{"t":2545,"v":0.02},{"t":2550,"v":0.0},{"t":2555,"v":0.03},{"t":2560,"v":0.05},{"t":2565,"v":0.0},{"t":2570,"v":0.02},{"t":2575,"v":-0.01},{"t":2580,"v":0.01},{"t":2585,"v":-0.03},{"t":2590,"v":0.0},{"t":2595,"v":0.02},{"t":2600,"v":-0.02},{"t":2605,"v":0.03},{"t":2610,"v":0.01},{"t":2615,"v":0.0},{"t":2620,"v":0.02},{"t":2625,"v":0.03},{"t":2630,"v":-0.01},{"t":2635,"v":0.02},{"t":2640,"v":0.0},{"t":2645,"v":0.03},{"t":2650,"v":0.02},{"t":2655,"v":0.06},{"t":2660,"v":0.0},{"t":2665,"v":0.02},{"t":2670,"v":0.0},{"t":2675,"v":-0.01},{"t":2680,"v":0.01},{"t":2685,"v":0.0},{"t":2690,"v":-0.02},{"t":2695,"v":0.01},{"t":2700,"v":0.0},{"t":2705,"v":0.02},{"t":2710,"v":-0.01},{"t":2715,"v":0.0},{"t":2720,"v":-0.03},{"t":2725,"v":0.01},{"t":2730,"v":0.0},{"t":2735,"v":0.02},{"t":2740,"v":-0.01},{"t":2745,"v":0.01},{"t":2750,"v":0.02},{"t":2755,"v":0.0},{"t":2760,"v":0.01},{"t":2765,"v":0.02},{"t":2770,"v":-0.02},{"t":2775,"v":0.0},{"t":2780,"v":-0.04},{"t":2785,"v":0.01},{"t":2790,"v":0.0},{"t":2795,"v":0.02},{"t":2800,"v":0.0},{"t":2805,"v":0.01},{"t":2810,"v":-0.02},{"t":2815,"v":0.02},{"t":2820,"v":0.0},{"t":2825,"v":0.02},{"t":2830,"v":-0.01},{"t":2835,"v":0.03},{"t":2840,"v":0.0},{"t":2845,"v":0.02},{"t":2850,"v":0.03},{"t":2855,"v":0.0},{"t":2860,"v":0.04},{"t":2865,"v":0.02},{"t":2870,"v":0.05},{"t":2875,"v":0.09},{"t":2880,"v":0.02},{"t":2885,"v":0.01},{"t":2890,"v":0.03},{"t":2895,"v":0.0},{"t":2900,"v":0.02},{"t":2905,"v":-0.01},{"t":2910,"v":0.0},{"t":2915,"v":-0.02},{"t":2920,"v":0.01},{"t":2925,"v":-0.03},{"t":2930,"v":-0.05},{"t":2935,"v":-0.01},{"t":2940,"v":0.0},{"t":2945,"v":0.02},{"t":2950,"v":-0.02},{"t":2955,"v":0.01},{"t":2960,"v":0.0},{"t":2965,"v":0.02},{"t":2970,"v":0.01},{"t":2975,"v":0.0},{"t":2980,"v":0.02},{"t":2985,"v":0.0},{"t":2990,"v":0.02},{"t":2995,"v":0.0},{"t":3000,"v":0.02}],
"p1": [{"k":"s","x":-2.05,"p":2.2e-4},{"k":"s","x":-1.9,"p":1.4e-3},{"k":"s","x":-1.7,"p":0.015},{"k":"s","x":-1.5,"p":0.1},{"k":"s","x":-1.3,"p":0.28},{"k":"s","x":-1.1,"p":0.66},{"k":"s","x":-0.9,"p":1.0},{"k":"s","x":-0.7,"p":1.23},{"k":"s","x":-0.5,"p":1.12},{"k":"s","x":-0.3,"p":0.66},{"k":"s","x":-0.1,"p":0.28},{"k":"s","x":0.1,"p":0.079},{"k":"s","x":0.3,"p":0.0126},{"k":"s","x":0.5,"p":0.001},{"k":"s","x":0.66,"p":1e-4},
 {"k":"d","x":-1.95,"p":6.3e-4},{"k":"d","x":-1.8,"p":4.5e-3},{"k":"d","x":-1.6,"p":0.035},{"k":"d","x":-1.4,"p":0.16},{"k":"d","x":-1.2,"p":0.45},{"k":"d","x":-1.0,"p":0.83},{"k":"d","x":-0.8,"p":1.15},{"k":"d","x":-0.6,"p":1.23},{"k":"d","x":-0.4,"p":0.95},{"k":"d","x":-0.2,"p":0.5},{"k":"d","x":0.0,"p":0.166},{"k":"d","x":0.2,"p":0.035},{"k":"d","x":0.4,"p":0.005},{"k":"d","x":0.6,"p":6.3e-4}],
"p2": [{"k":"s","x":-1.25,"p":1.8e-3},{"k":"s","x":-1.2,"p":0.03},{"k":"s","x":-1.15,"p":0.13},{"k":"s","x":-1.1,"p":0.3},{"k":"s","x":-1.0,"p":0.63},{"k":"s","x":-0.9,"p":1.2},{"k":"s","x":-0.8,"p":1.7},{"k":"s","x":-0.7,"p":2.0},{"k":"s","x":-0.6,"p":1.95},{"k":"s","x":-0.5,"p":1.6},{"k":"s","x":-0.4,"p":0.95},{"k":"s","x":-0.3,"p":0.4},{"k":"s","x":-0.2,"p":0.08},{"k":"s","x":-0.15,"p":0.028},{"k":"s","x":-0.1,"p":0.008},{"k":"s","x":-0.05,"p":1.4e-3},
 {"k":"d","x":-1.25,"p":0.023},{"k":"d","x":-1.2,"p":0.05},{"k":"d","x":-1.15,"p":0.12},{"k":"d","x":-1.1,"p":0.25},{"k":"d","x":-1.0,"p":0.55},{"k":"d","x":-0.9,"p":1.1},{"k":"d","x":-0.8,"p":1.8},{"k":"d","x":-0.7,"p":2.4},{"k":"d","x":-0.6,"p":2.3},{"k":"d","x":-0.5,"p":1.66},{"k":"d","x":-0.4,"p":0.85},{"k":"d","x":-0.3,"p":0.35},{"k":"d","x":-0.2,"p":0.13},{"k":"d","x":-0.133,"p":0.066},{"k":"d","x":-0.067,"p":0.0174}],
"p3": [{"k":"s","x":-0.705,"p":2.1e-4},{"k":"s","x":-0.63,"p":4.8e-3},{"k":"s","x":-0.5,"p":0.091},{"k":"s","x":-0.35,"p":0.48},{"k":"s","x":-0.16,"p":1.29},{"k":"s","x":0,"p":1.58},{"k":"s","x":0.17,"p":1.29},{"k":"s","x":0.34,"p":0.48},{"k":"s","x":0.49,"p":0.091},{"k":"s","x":0.6,"p":6.9e-3},{"k":"s","x":0.7,"p":2.1e-4},
 {"k":"d","x":-0.705,"p":6.9e-3},{"k":"d","x":-0.5,"p":0.076},{"k":"d","x":-0.35,"p":0.48},{"k":"d","x":-0.16,"p":1.26},{"k":"d","x":0,"p":1.7},{"k":"d","x":0.17,"p":1.26},{"k":"d","x":0.34,"p":0.48},{"k":"d","x":0.49,"p":0.1},{"k":"d","x":0.67,"p":0.01}],
"p4": [{"k":"s","x":-0.666,"p":1.5e-4},{"k":"s","x":-0.604,"p":2.1e-3},{"k":"s","x":-0.507,"p":0.027},{"k":"s","x":-0.419,"p":0.087},{"k":"s","x":-0.295,"p":0.23},{"k":"s","x":-0.154,"p":0.76},{"k":"s","x":0,"p":3.6},{"k":"s","x":0.147,"p":0.93},{"k":"s","x":0.288,"p":0.28},{"k":"s","x":0.43,"p":0.087},{"k":"s","x":0.535,"p":0.018},{"k":"s","x":0.606,"p":1.4e-3},{"k":"s","x":0.65,"p":1.5e-4},
 {"k":"d","x":-0.63,"p":6e-5},{"k":"d","x":-0.542,"p":1.7e-3},{"k":"d","x":-0.419,"p":0.027},{"k":"d","x":-0.295,"p":0.23},{"k":"d","x":-0.19,"p":1.38},{"k":"d","x":0,"p":4.5},{"k":"d","x":0.2,"p":1.66},{"k":"d","x":0.323,"p":0.23},{"k":"d","x":0.447,"p":0.018},{"k":"d","x":0.553,"p":1.15e-3},{"k":"d","x":0.615,"p":7.2e-5}],
"p5": [{"k":"s","x":-0.58,"p":1.1e-4},{"k":"s","x":-0.5,"p":3e-3},{"k":"s","x":-0.4,"p":0.015},{"k":"s","x":-0.29,"p":0.041},{"k":"s","x":-0.19,"p":0.16},{"k":"s","x":-0.095,"p":1.0},{"k":"s","x":0,"p":6.2},{"k":"s","x":0.07,"p":2.2},{"k":"s","x":0.19,"p":0.3},{"k":"s","x":0.3,"p":0.076},{"k":"s","x":0.43,"p":0.018},{"k":"s","x":0.51,"p":3e-3},{"k":"s","x":0.58,"p":1.1e-4},
 {"k":"d","x":-0.335,"p":5.9e-5},{"k":"d","x":-0.27,"p":2.5e-3},{"k":"d","x":-0.19,"p":0.25},{"k":"d","x":-0.095,"p":2.2},{"k":"d","x":0,"p":6.2},{"k":"d","x":0.1,"p":1.8},{"k":"d","x":0.2,"p":0.11},{"k":"d","x":0.27,"p":5.4e-3},{"k":"d","x":0.33,"p":1.4e-4}],
"p6": [{"k":"s","x":-0.74,"p":5.6e-5},{"k":"s","x":-0.65,"p":1.6e-4},{"k":"s","x":-0.55,"p":4e-4},{"k":"s","x":-0.45,"p":1e-3},{"k":"s","x":-0.35,"p":2.5e-3},{"k":"s","x":-0.25,"p":7e-3},{"k":"s","x":-0.15,"p":0.04},{"k":"s","x":-0.08,"p":0.3},{"k":"s","x":0,"p":4.0},{"k":"s","x":0.08,"p":0.3},{"k":"s","x":0.15,"p":0.04},{"k":"s","x":0.25,"p":7e-3},{"k":"s","x":0.35,"p":2.5e-3},{"k":"s","x":0.45,"p":1e-3},{"k":"s","x":0.55,"p":4e-4},{"k":"s","x":0.65,"p":1.6e-4},{"k":"s","x":0.74,"p":5.6e-5},
 {"k":"d","x":-0.2,"p":4e-6},{"k":"d","x":-0.15,"p":1e-3},{"k":"d","x":-0.1,"p":0.1},{"k":"d","x":-0.05,"p":1.5},{"k":"d","x":0,"p":4.5},{"k":"d","x":0.05,"p":1.5},{"k":"d","x":0.1,"p":0.1},{"k":"d","x":0.15,"p":1e-3},{"k":"d","x":0.2,"p":4e-6}],
"p7": [{"k":"s","x":-0.2,"p":8.5e-4},{"k":"s","x":-0.158,"p":2.75e-3},{"k":"s","x":-0.126,"p":0.0126},{"k":"s","x":-0.091,"p":0.085},{"k":"s","x":-0.062,"p":0.48},{"k":"s","x":-0.033,"p":5.6},{"k":"s","x":0,"p":20},{"k":"s","x":0.022,"p":10.7},{"k":"s","x":0.048,"p":2.2},{"k":"s","x":0.083,"p":0.25},{"k":"s","x":0.118,"p":0.045},{"k":"s","x":0.135,"p":0.011},{"k":"s","x":0.153,"p":2.75e-3},{"k":"s","x":0.197,"p":8.5e-4},
 {"k":"d","x":-0.109,"p":1e-4},{"k":"d","x":-0.085,"p":7.9e-3},{"k":"d","x":-0.062,"p":0.4},{"k":"d","x":-0.033,"p":6.3},{"k":"d","x":0,"p":20},{"k":"d","x":0.031,"p":7.9},{"k":"d","x":0.06,"p":0.48},{"k":"d","x":0.083,"p":7.9e-3},{"k":"d","x":0.103,"p":1e-4}]
},
"spacing": -9,
"vconcat": [
 {"bounds": "flush", "spacing": 45, "hconcat": [
  {"width": 427, "height": 102, "data": {"name": "u"}, "mark": {"type": "line", "color": "#111", "strokeWidth": 0.8, "clip": true},
   "encoding": {"x": {"field": "t", "type": "quantitative", "scale": {"domain": [2000, 3000], "nice": false, "zero": false}, "axis": {"values": [2000,2200,2400,2600,2800,3000], "format": "d", "title": " ", "titleX": 200, "titleY": 41, "titleAngle": 0, "titleBaseline": "bottom", "labelPadding": 8}},
    "y": {"field": "v", "type": "quantitative", "scale": {"domain": [-2.3, 1.07], "nice": false, "zero": false}, "axis": {"values": [-2,-1,0,1], "format": "~g", "title": "u", "titleX": -28, "titleY": 51, "titleBaseline": "middle", "labelPadding": 10}}}},
  {"width": 286, "height": 102, "data": {"name": "p1"}, "mark": {"type": "line", "color": "#000", "strokeWidth": 2.5, "clip": true, "interpolate": "monotone"},
   "encoding": {"x": {"field": "x", "type": "quantitative", "scale": {"domain": [-2.13, 0.75], "nice": false, "zero": false}, "axis": {"values": [-2,-1,0], "format": "~g", "title": "u", "titleX": 143, "titleY": 30, "titleBaseline": "middle", "labelPadding": 6}},
    "y": {"field": "p", "type": "quantitative", "scale": {"type": "log", "domain": [5.62e-6, 1.82], "nice": false}, "axis": {"values": [0.0001, 0.01, 1], "labelExpr": "datum.value > 0.5 ? '10⁰' : datum.value > 0.005 ? '10⁻²' : '10⁻⁴'", "title": " ", "titleX": -515, "titleY": -11, "titleAngle": 0, "titleAlign": "left", "titleBaseline": "top", "labelPadding": 20}},
    "strokeDash": {"field": "k", "type": "nominal", "scale": {"domain": ["s", "d"], "range": [[1, 0], [7, 5]]}, "legend": null}}}
 ]},
 {"bounds": "flush", "spacing": 45, "hconcat": [
  {"width": 427, "height": 102, "data": {"name": "ub"}, "mark": {"type": "line", "color": "#111", "strokeWidth": 0.8, "clip": true},
   "encoding": {"x": {"field": "t", "type": "quantitative", "scale": {"domain": [2000, 3000], "nice": false, "zero": false}, "axis": {"values": [2000,2200,2400,2600,2800,3000], "format": "d", "title": " ", "titleX": 200, "titleY": 43, "titleAngle": 0, "titleBaseline": "bottom", "labelPadding": 8}},
    "y": {"field": "v", "type": "quantitative", "scale": {"domain": [-1.5, 0.1], "nice": false, "zero": false}, "axis": {"values": [-1.5,-1,-0.5,0], "format": "~g", "title": "ū", "titleX": -28, "titleY": 51, "titleBaseline": "middle", "labelPadding": 10}}}},
  {"width": 286, "height": 102, "data": {"name": "p2"}, "mark": {"type": "line", "color": "#000", "strokeWidth": 2.5, "clip": true, "interpolate": "monotone"},
   "encoding": {"x": {"field": "x", "type": "quantitative", "scale": {"domain": [-1.375, 0.055], "nice": false, "zero": false}, "axis": {"values": [-1,-0.5,0], "format": "~g", "title": "ū", "titleX": 143, "titleY": 30, "titleBaseline": "middle", "labelPadding": 6}},
    "y": {"field": "p", "type": "quantitative", "scale": {"type": "log", "domain": [4.68e-4, 4.68], "nice": false}, "axis": {"values": [0.01, 1], "labelExpr": "datum.value > 0.5 ? '10⁰' : datum.value > 0.005 ? '10⁻²' : '10⁻⁴'", "title": " ", "titleX": -515, "titleY": -11, "titleAngle": 0, "titleAlign": "left", "titleBaseline": "top", "labelPadding": 20}},
    "strokeDash": {"field": "k", "type": "nominal", "scale": {"domain": ["s", "d"], "range": [[1, 0], [7, 5]]}, "legend": null}}}
 ]},
 {"bounds": "flush", "spacing": 45, "hconcat": [
  {"width": 427, "height": 102, "data": {"name": "u1"}, "mark": {"type": "line", "color": "#111", "strokeWidth": 0.8, "clip": true},
   "encoding": {"x": {"field": "t", "type": "quantitative", "scale": {"domain": [2000, 3000], "nice": false, "zero": false}, "axis": {"values": [2000,2200,2400,2600,2800,3000], "format": "d", "title": " ", "titleX": 200, "titleY": 55, "titleAngle": 0, "titleBaseline": "bottom", "labelPadding": 8}},
    "y": {"field": "v", "type": "quantitative", "scale": {"domain": [-1, 1], "nice": false, "zero": false}, "axis": {"values": [-1,0,1], "format": "~g", "title": "u′₁", "titleX": -28, "titleY": 51, "titleBaseline": "middle", "labelPadding": 10}}}},
  {"width": 286, "height": 102, "data": {"name": "p3"}, "mark": {"type": "line", "color": "#000", "strokeWidth": 2.5, "clip": true, "interpolate": "monotone"},
   "encoding": {"x": {"field": "x", "type": "quantitative", "scale": {"domain": [-0.8, 0.8], "nice": false, "zero": false}, "axis": {"values": [-0.5,0,0.5], "format": "~g", "title": "u′₁", "titleX": 143, "titleY": 30, "titleBaseline": "middle", "labelPadding": 6}},
    "y": {"field": "p", "type": "quantitative", "scale": {"type": "log", "domain": [4.47e-5, 3.47], "nice": false}, "axis": {"values": [0.0001, 0.01, 1], "labelExpr": "datum.value > 0.5 ? '10⁰' : datum.value > 0.005 ? '10⁻²' : '10⁻⁴'", "title": " ", "titleX": -515, "titleY": -11, "titleAngle": 0, "titleAlign": "left", "titleBaseline": "top", "labelPadding": 20}},
    "strokeDash": {"field": "k", "type": "nominal", "scale": {"domain": ["s", "d"], "range": [[1, 0], [7, 5]]}, "legend": null}}}
 ]},
 {"bounds": "flush", "spacing": 45, "hconcat": [
  {"width": 427, "height": 102, "data": {"name": "u2"}, "mark": {"type": "line", "color": "#111", "strokeWidth": 0.8, "clip": true},
   "encoding": {"x": {"field": "t", "type": "quantitative", "scale": {"domain": [2000, 3000], "nice": false, "zero": false}, "axis": {"values": [2000,2200,2400,2600,2800,3000], "format": "d", "title": " ", "titleX": 200, "titleY": 50, "titleAngle": 0, "titleBaseline": "bottom", "labelPadding": 8}},
    "y": {"field": "v", "type": "quantitative", "scale": {"domain": [-0.6, 0.6], "nice": false, "zero": false}, "axis": {"values": [-0.5,0,0.5], "format": "~g", "title": "u′₂", "titleX": -28, "titleY": 51, "titleBaseline": "middle", "labelPadding": 10}}}},
  {"width": 286, "height": 102, "data": {"name": "p4"}, "mark": {"type": "line", "color": "#000", "strokeWidth": 2.5, "clip": true, "interpolate": "monotone"},
   "encoding": {"x": {"field": "x", "type": "quantitative", "scale": {"domain": [-0.76, 0.76], "nice": false, "zero": false}, "axis": {"values": [-0.5,0,0.5], "format": "~g", "title": "u′₂", "titleX": 143, "titleY": 30, "titleBaseline": "middle", "labelPadding": 6}},
    "y": {"field": "p", "type": "quantitative", "scale": {"type": "log", "domain": [4.57e-5, 7.76], "nice": false}, "axis": {"values": [0.0001, 0.01, 1], "labelExpr": "datum.value > 0.5 ? '10⁰' : datum.value > 0.005 ? '10⁻²' : '10⁻⁴'", "title": " ", "titleX": -515, "titleY": -11, "titleAngle": 0, "titleAlign": "left", "titleBaseline": "top", "labelPadding": 20}},
    "strokeDash": {"field": "k", "type": "nominal", "scale": {"domain": ["s", "d"], "range": [[1, 0], [7, 5]]}, "legend": null}}}
 ]},
 {"bounds": "flush", "spacing": 45, "hconcat": [
  {"width": 427, "height": 102, "data": {"name": "u3"}, "mark": {"type": "line", "color": "#111", "strokeWidth": 0.8, "clip": true},
   "encoding": {"x": {"field": "t", "type": "quantitative", "scale": {"domain": [2000, 3000], "nice": false, "zero": false}, "axis": {"values": [2000,2200,2400,2600,2800,3000], "format": "d", "title": " ", "titleX": 200, "titleY": 49, "titleAngle": 0, "titleBaseline": "bottom", "labelPadding": 8}},
    "y": {"field": "v", "type": "quantitative", "scale": {"domain": [-0.5, 0.5], "nice": false, "zero": false}, "axis": {"values": [-0.5,0,0.5], "format": "~g", "title": "u′₃", "titleX": -28, "titleY": 51, "titleBaseline": "middle", "labelPadding": 10}}}},
  {"width": 286, "height": 102, "data": {"name": "p5"}, "mark": {"type": "line", "color": "#000", "strokeWidth": 2.5, "clip": true, "interpolate": "monotone"},
   "encoding": {"x": {"field": "x", "type": "quantitative", "scale": {"domain": [-0.71, 0.71], "nice": false, "zero": false}, "axis": {"values": [-0.5,0,0.5], "format": "~g", "title": "u′₃", "titleX": 143, "titleY": 30, "titleBaseline": "middle", "labelPadding": 6}},
    "y": {"field": "p", "type": "quantitative", "scale": {"type": "log", "domain": [5.89e-5, 13.8], "nice": false}, "axis": {"values": [0.0001, 0.01, 1], "labelExpr": "datum.value > 0.5 ? '10⁰' : datum.value > 0.005 ? '10⁻²' : '10⁻⁴'", "title": " ", "titleX": -515, "titleY": -11, "titleAngle": 0, "titleAlign": "left", "titleBaseline": "top", "labelPadding": 20}},
    "strokeDash": {"field": "k", "type": "nominal", "scale": {"domain": ["s", "d"], "range": [[1, 0], [7, 5]]}, "legend": null}}}
 ]},
 {"bounds": "flush", "spacing": 45, "hconcat": [
  {"width": 427, "height": 102, "data": {"name": "u4"}, "mark": {"type": "line", "color": "#111", "strokeWidth": 0.8, "clip": true},
   "encoding": {"x": {"field": "t", "type": "quantitative", "scale": {"domain": [2000, 3000], "nice": false, "zero": false}, "axis": {"values": [2000,2200,2400,2600,2800,3000], "format": "d", "title": " ", "titleX": 200, "titleY": 56, "titleAngle": 0, "titleBaseline": "bottom", "labelPadding": 8}},
    "y": {"field": "v", "type": "quantitative", "scale": {"domain": [-0.5, 0.5], "nice": false, "zero": false}, "axis": {"values": [-0.5,0,0.5], "format": "~g", "title": "u′₄", "titleX": -28, "titleY": 51, "titleBaseline": "middle", "labelPadding": 10}}}},
  {"width": 286, "height": 102, "data": {"name": "p6"}, "mark": {"type": "line", "color": "#000", "strokeWidth": 2.5, "clip": true, "interpolate": "monotone"},
   "encoding": {"x": {"field": "x", "type": "quantitative", "scale": {"domain": [-0.875, 0.875], "nice": false, "zero": false}, "axis": {"values": [-0.5,0,0.5], "format": "~g", "title": "u′₄", "titleX": 143, "titleY": 30, "titleBaseline": "middle", "labelPadding": 6}},
    "y": {"field": "p", "type": "quantitative", "scale": {"type": "log", "domain": [4.47e-6, 8.3], "nice": false}, "axis": {"values": [0.0001, 0.01, 1], "labelExpr": "datum.value > 0.5 ? '10⁰' : datum.value > 0.005 ? '10⁻²' : '10⁻⁴'", "title": " ", "titleX": -515, "titleY": -11, "titleAngle": 0, "titleAlign": "left", "titleBaseline": "top", "labelPadding": 20}},
    "strokeDash": {"field": "k", "type": "nominal", "scale": {"domain": ["s", "d"], "range": [[1, 0], [7, 5]]}, "legend": null}}}
 ]},
 {"bounds": "flush", "spacing": 45, "hconcat": [
  {"width": 427, "height": 102, "data": {"name": "u5"}, "mark": {"type": "line", "color": "#111", "strokeWidth": 0.8, "clip": true},
   "encoding": {"x": {"field": "t", "type": "quantitative", "scale": {"domain": [2000, 3000], "nice": false, "zero": false}, "axis": {"values": [2000,2200,2400,2600,2800,3000], "format": "d", "title": "time", "titleFont": "Liberation Sans", "titleFontStyle": "normal", "titleFontSize": 18, "titleX": 213.5, "titleY": 33, "titleAngle": 0, "titleBaseline": "middle", "labelPadding": 8}},
    "y": {"field": "v", "type": "quantitative", "scale": {"domain": [-0.2, 0.2], "nice": false, "zero": false}, "axis": {"values": [-0.2,0,0.2], "format": "~g", "title": "u′₅", "titleX": -28, "titleY": 51, "titleBaseline": "middle", "labelPadding": 10}}}},
  {"width": 286, "height": 102, "data": {"name": "p7"}, "mark": {"type": "line", "color": "#000", "strokeWidth": 2.5, "clip": true, "interpolate": "monotone"},
   "encoding": {"x": {"field": "x", "type": "quantitative", "scale": {"domain": [-0.25, 0.25], "nice": false, "zero": false}, "axis": {"values": [-0.2,-0.1,0,0.1,0.2], "format": "~g", "title": "u′₅", "titleX": 143, "titleY": 30, "titleBaseline": "middle", "labelPadding": 6}},
    "y": {"field": "p", "type": "quantitative", "scale": {"type": "log", "domain": [1e-4, 46.8], "nice": false}, "axis": {"values": [0.0001, 0.01, 1], "labelExpr": "datum.value > 0.5 ? '10⁰' : datum.value > 0.005 ? '10⁻²' : '10⁻⁴'", "title": " ", "titleX": -515, "titleY": -11, "titleAngle": 0, "titleAlign": "left", "titleBaseline": "top", "labelPadding": 20}},
    "strokeDash": {"field": "k", "type": "nominal", "scale": {"domain": ["s", "d"], "range": [[1, 0], [7, 5]]}, "legend": null}}}
 ]}
]
}
